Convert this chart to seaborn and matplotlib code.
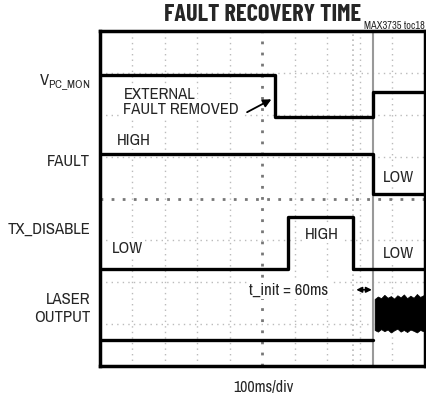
import numpy as np
import pandas as pd
import seaborn as sns
from matplotlib import pyplot as plt

sns.set_style('white')
plt.rcParams['font.family'] = ['Archivo Narrow', 'DejaVu Sans']
plt.rcParams['mathtext.fontset'] = 'custom'
plt.rcParams['mathtext.rm'] = 'Archivo Narrow'

# traces, in scope divisions (x: 10 div of 100ms, y: 8 div)
vpc_x = [0.0, 5.38, 8.4, 10.0]
vpc_y = [6.95, 5.94, 6.54, 6.54]
fault_x = [0.0, 8.4, 10.0]
fault_y = [5.06, 4.10, 4.10]
txdis_x = [0.0, 5.8, 7.8, 10.0]
txdis_y = [2.31, 3.56, 2.31, 2.31]
laser_x = [0.0, 8.4]
laser_y = [0.62, 0.62]
# noisy laser envelope after recovery (estimated)
noise_x = [8.45, 8.55, 8.65, 8.75, 8.85, 8.95, 9.05, 9.15, 9.25, 9.35,
           9.45, 9.55, 9.65, 9.75, 9.85, 9.95, 10.0]
noise_top = [1.60, 1.66, 1.62, 1.70, 1.63, 1.67, 1.61, 1.69, 1.64, 1.71,
             1.62, 1.68, 1.63, 1.72, 1.65, 1.69, 1.64]
noise_bot = [0.86, 0.82, 0.88, 0.83, 0.87, 0.80, 0.85, 0.89, 0.82, 0.86,
             0.81, 0.87, 0.84, 0.80, 0.86, 0.83, 0.85]

channel_names = [r'V$_{\mathrm{PC\_MON}}$', 'FAULT', 'TX_DISABLE', 'LASER\nOUTPUT']
channel_pos = [6.8, 4.9, 3.3, 1.4]

fig = plt.figure(figsize=(4.27, 4.02), dpi=100)
ax = fig.add_axes([100 / 427, 35 / 402, 325 / 427, 335 / 402])
ax.set_xlim(0, 10)
ax.set_ylim(0, 8)

# graticule
for gx in range(1, 10):
    c = '#777777' if gx == 5 else '#bbbbbb'
    lw = 2.0 if gx == 5 else 1.0
    ax.axvline(gx, color=c, lw=lw, ls=(0, (1, 3)), zorder=1)
for gy in range(1, 8):
    c = '#777777' if gy == 4 else '#bbbbbb'
    lw = 2.0 if gy == 4 else 1.0
    ax.axhline(gy, color=c, lw=lw, ls=(0, (1, 3)), zorder=1)
ax.axvline(7.8, color='#bbbbbb', lw=1.2, ls=(0, (1, 2)), zorder=1)
ax.axvline(8.4, color='#999999', lw=1.5, zorder=1)

for xs, ys in [(vpc_x, vpc_y), (fault_x, fault_y), (txdis_x, txdis_y), (laser_x, laser_y)]:
    sns.lineplot(x=xs, y=ys, drawstyle='steps-post', color='black', lw=2.4, ax=ax, zorder=3)

ax.fill_between(noise_x, noise_bot, noise_top, color='black', lw=0.5, zorder=3)

ax.set_xticks([])
ax.set_yticks([])
for s in ax.spines.values():
    s.set_linewidth(2.5)
    s.set_color('black')

fs = 12
box = dict(facecolor='white', edgecolor='none', pad=1.5)
ax.text(0.72, 6.5, 'EXTERNAL', fontsize=fs, va='center', ha='left', bbox=box, zorder=4)
ax.text(0.72, 6.15, 'FAULT REMOVED', fontsize=fs, va='center', ha='left', bbox=box, zorder=4)
ax.annotate('', xy=(5.35, 6.4), xytext=(4.45, 6.03),
            arrowprops=dict(arrowstyle='-|>', color='black', lw=1.3, mutation_scale=12), zorder=4)
ax.text(0.52, 5.42, 'HIGH', fontsize=fs, va='center', ha='left', bbox=box, zorder=4)
ax.text(8.7, 4.53, 'LOW', fontsize=fs, va='center', ha='left', bbox=box, zorder=4)
ax.text(6.3, 3.17, 'HIGH', fontsize=fs, va='center', ha='left', bbox=box, zorder=4)
ax.text(0.37, 2.84, 'LOW', fontsize=fs, va='center', ha='left', bbox=box, zorder=4)
ax.text(8.7, 2.72, 'LOW', fontsize=fs, va='center', ha='left', bbox=box, zorder=4)
ax.text(4.58, 1.82, 't_init = 60ms', fontsize=fs, va='center', ha='left', bbox=box, zorder=4)
ax.annotate('', xy=(7.8, 1.82), xytext=(8.45, 1.82),
            arrowprops=dict(arrowstyle='<|-|>', color='black', lw=1.2, mutation_scale=8), zorder=4)

for name, yp in zip(channel_names, channel_pos):
    ax.text(-0.3, yp, name, fontsize=fs, ha='right', va='center', multialignment='right')

fig.text(263 / 427, 1 - 15 / 402, 'FAULT RECOVERY TIME', fontsize=17.5, fontweight='bold',
         family='Barlow Condensed', ha='center', va='center')
fig.text(425 / 427, 1 - 26 / 402, 'MAX3735 toc18', fontsize=7.5, ha='right', va='center')
fig.text(263 / 427, 1 - 388 / 402, '100ms/div', fontsize=11.5, ha='center', va='center')

fig.savefig('out.png', dpi=100)
